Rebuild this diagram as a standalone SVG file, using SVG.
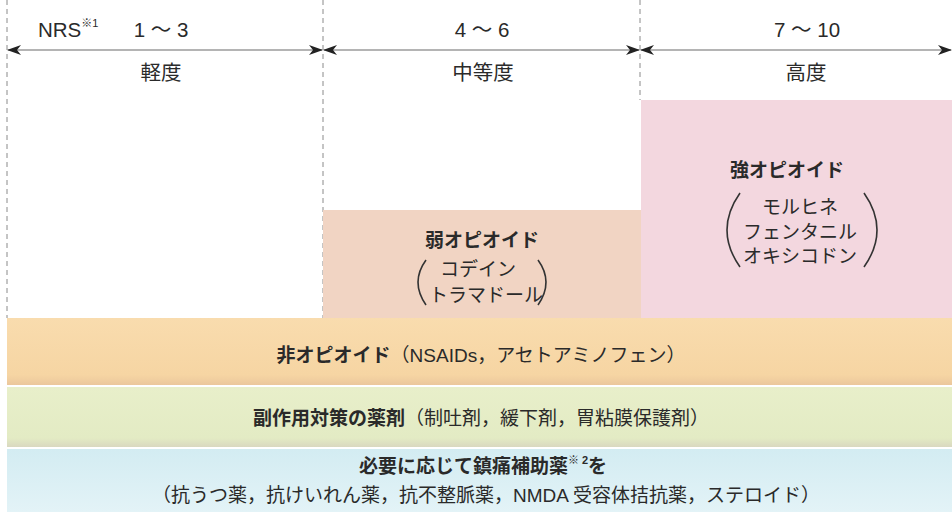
<svg xmlns="http://www.w3.org/2000/svg" width="952" height="517" viewBox="0 0 952 517">
<style>
text{font-family:"Liberation Sans","Noto Sans CJK JP",sans-serif;fill:#2a2a2a;font-size:19px}
.c{text-anchor:middle}
.b{font-weight:bold}
.t{font-size:20.5px}
.sup{font-size:11px}
.dash{stroke:#8a8a8a;stroke-width:1;stroke-dasharray:5,4;fill:none}
.arr{stroke:#6a6a6a;stroke-width:1.2;fill:none;marker-start:url(#ah);marker-end:url(#ah)}
.par{stroke:#333;stroke-width:1.6;fill:none}
</style>
<defs>
<marker id="ah" viewBox="0 0 14 10" refX="13" refY="5" markerWidth="14" markerHeight="10" markerUnits="userSpaceOnUse" orient="auto-start-reverse">
<path d="M0,0 L14,5 L0,10 L4,5 z" fill="#222"/>
</marker>
<linearGradient id="gO" x1="0" y1="0" x2="0" y2="1"><stop offset="0" stop-color="#f9dcae"/><stop offset="0.85" stop-color="#f6d5a3"/><stop offset="1" stop-color="#ebc79c"/></linearGradient>
<linearGradient id="gG" x1="0" y1="0" x2="0" y2="1"><stop offset="0" stop-color="#e8efca"/><stop offset="0.85" stop-color="#e3ebc4"/><stop offset="1" stop-color="#d9d8c0"/></linearGradient>
<linearGradient id="gB" x1="0" y1="0" x2="0" y2="1"><stop offset="0" stop-color="#d3ecf2"/><stop offset="1" stop-color="#e3f3f7"/></linearGradient>
</defs>
<rect width="952" height="517" fill="#ffffff"/>
<g id="guides">
<line class="dash" x1="7" y1="0" x2="7" y2="318"/>
<line class="dash" x1="323" y1="0" x2="323" y2="318"/>
<line class="dash" x1="640" y1="0" x2="640" y2="100"/>
</g>
<g id="connectors">
<line class="arr" x1="8" y1="50" x2="322" y2="50"/>
<line class="arr" x1="324" y1="50" x2="639" y2="50"/>
<line class="arr" x1="641" y1="50" x2="951" y2="50"/>
</g>
<g id="scale-mild">
<text class="t" x="38" y="37">NRS<tspan class="sup" dy="-10">※1</tspan></text>
<text class="c t" x="161" y="37">1 ～ 3</text>
<text class="c t" x="161" y="80">軽度</text>
</g>
<g id="scale-moderate">
<text class="c t" x="482" y="37">4 ～ 6</text>
<text class="c t" x="483" y="80">中等度</text>
</g>
<g id="scale-severe">
<text class="c t" x="807" y="37">7 ～ 10</text>
<text class="c t" x="806" y="80">高度</text>
</g>
<g id="weak-opioid">
<rect x="323" y="210" width="318" height="108" fill="#f1d4c3"/>
<text class="c b" x="482" y="247" font-size="18">弱オピオイド</text>
<text class="c" x="478" y="276" font-size="18">コデイン</text>
<text class="c" x="486" y="302" font-size="18">トラマドール</text>
<path class="par" d="M426 260 Q410 282 426 305"/>
<path class="par" d="M538 260 Q554 282 538 305"/>
</g>
<g id="strong-opioid">
<rect x="641" y="100" width="311" height="218" fill="#f3d7df"/>
<text class="c b" x="787" y="177" font-size="18">強オピオイド</text>
<text class="c" x="800" y="214" font-size="18">モルヒネ</text>
<text class="c" x="800" y="239" font-size="18">フェンタニル</text>
<text class="c" x="800" y="263" font-size="18">オキシコドン</text>
<path class="par" d="M740 193 Q714 230 740 267"/>
<path class="par" d="M864 193 Q890 230 864 267"/>
</g>
<g id="non-opioid">
<rect x="7" y="318" width="945" height="67" fill="url(#gO)"/>
<text class="c" x="481" y="362"><tspan class="b">非オピオイド</tspan>（NSAIDs，アセトアミノフェン）</text>
</g>
<g id="side-effect">
<rect x="7" y="387" width="945" height="60" fill="url(#gG)"/>
<text class="c" x="481" y="425"><tspan class="b">副作用対策の薬剤</tspan>（制吐剤，緩下剤，胃粘膜保護剤）</text>
</g>
<g id="adjuvant">
<rect x="7" y="449" width="945" height="63" fill="url(#gB)"/>
<text class="c b" x="483" y="473">必要に応じて鎮痛補助薬<tspan class="sup" dy="-9">※ 2</tspan><tspan dy="9">を</tspan></text>
<text class="c" x="486" y="502">（抗うつ薬，抗けいれん薬，抗不整脈薬，NMDA 受容体拮抗薬，ステロイド）</text>
</g>
</svg>
